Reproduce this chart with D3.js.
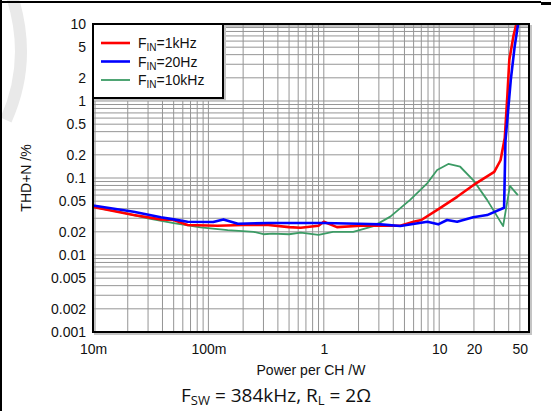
<!DOCTYPE html>
<html>
<head>
<meta charset="utf-8">
<script src="https://cdn.jsdelivr.net/npm/d3@7"></script>
<style>
  html, body { margin: 0; padding: 0; background: #fff; }
  svg { display: block; }
  text { font-family: "Liberation Sans", Arial, sans-serif; fill: #111; }
</style>
</head>
<body>
<svg id="chart" width="551" height="411"></svg>
<script>
// Output power per channel (W) and THD+N (%) for each input frequency
const powerRed   = [0.01, 0.0225, 0.0387, 0.05, 0.066, 0.12, 0.2, 0.33, 0.5, 0.63, 0.9, 1.0, 1.3, 2.07, 3.0, 4.6, 6.0, 7.0, 10, 14.3, 21, 30, 34, 37, 39, 40.5, 44, 47];
const thdRed     = [0.042, 0.033, 0.029, 0.0285, 0.0245, 0.024, 0.0245, 0.0245, 0.023, 0.0226, 0.024, 0.027, 0.023, 0.024, 0.024, 0.024, 0.027, 0.0285, 0.040, 0.057, 0.086, 0.12, 0.17, 0.33, 1.2, 3.4, 7, 10.5];

const powerBlue  = [0.01, 0.0225, 0.0387, 0.05, 0.066, 0.11, 0.135, 0.18, 0.33, 0.5, 1.0, 2.0, 3.1, 4.6, 7.9, 9.8, 11.7, 14.3, 19.7, 26, 36.5, 37.5, 41.7, 45, 48.5];
const thdBlue    = [0.044, 0.0365, 0.031, 0.029, 0.027, 0.0268, 0.029, 0.0255, 0.026, 0.026, 0.026, 0.0255, 0.025, 0.0238, 0.027, 0.025, 0.0285, 0.027, 0.031, 0.033, 0.041, 0.3, 1.87, 5, 10.5];

const powerGreen = [0.01, 0.0173, 0.0298, 0.05, 0.0855, 0.147, 0.246, 0.3, 0.36, 0.5, 0.63, 0.9, 1.2, 1.8, 2.7, 3.77, 5.6, 7.9, 9.6, 12, 15.2, 19.7, 26, 31.7, 35.8, 41, 48];
const thdGreen   = [0.042, 0.036, 0.030, 0.026, 0.0228, 0.021, 0.0200, 0.0186, 0.019, 0.0186, 0.0195, 0.0183, 0.020, 0.020, 0.0237, 0.0315, 0.052, 0.086, 0.127, 0.152, 0.14, 0.094, 0.052, 0.032, 0.0237, 0.079, 0.06];

const seriesNames  = ["1kHz", "20Hz", "10kHz"];
const seriesColors = ["#ff0000", "#0000ff", "#3c9b65"];

const xTickValues = [0.01, 0.1, 1, 10, 20, 50];
const xTickLabels = ["10m", "100m", "1", "10", "20", "50"];
const yTickValues = [10, 5, 2, 1, 0.5, 0.2, 0.1, 0.05, 0.02, 0.01, 0.005, 0.002, 0.001];
const yTickLabels = ["10", "5", "2", "1", "0.5", "0.2", "0.1", "0.05", "0.02", "0.01", "0.005", "0.002", "0.001"];

const svg = d3.select("#chart");
const plot = { left: 93, top: 24, right: 529, bottom: 332 };

const x = d3.scaleLog().domain([0.01, 60]).range([plot.left, plot.right]);
const y = d3.scaleLog().domain([0.001, 10]).range([plot.bottom, plot.top]);

// page frame and faint background mark
svg.append("path")
  .attr("d", "M12,-4 C26,40 24,80 6,120")
  .attr("fill", "none").attr("stroke", "#e9e9e9").attr("stroke-width", 12);
svg.append("line").attr("x1", 0).attr("x2", 541).attr("y1", 2).attr("y2", 2)
  .attr("stroke", "#000").attr("stroke-width", 2);
svg.append("line").attr("x1", 541).attr("x2", 551).attr("y1", 3.5).attr("y2", 3.5)
  .attr("stroke", "#000").attr("stroke-width", 3);
svg.append("line").attr("x1", 1).attr("x2", 1).attr("y1", 0).attr("y2", 411)
  .attr("stroke", "#000").attr("stroke-width", 2);

// plot frame shadow
svg.append("rect")
  .attr("x", plot.left + 2).attr("y", plot.top + 2)
  .attr("width", plot.right - plot.left).attr("height", plot.bottom - plot.top)
  .attr("fill", "none").attr("stroke", "#c4c4c4").attr("stroke-width", 2);

// grid lines: every 1..9 step of each decade
const xGrid = [];
for (let e = -2; e <= 1; e++) for (let k = 1; k <= 9; k++) {
  const v = k * Math.pow(10, e);
  if (v >= 0.01 && v <= 60) xGrid.push(v);
}
const yGrid = [];
for (let e = -3; e <= 1; e++) for (let k = 1; k <= 9; k++) {
  const v = k * Math.pow(10, e);
  if (v >= 0.001 && v <= 10) yGrid.push(v);
}
const grid = svg.append("g").attr("stroke", "#959595").attr("stroke-width", 1);
grid.selectAll("line.v").data(xGrid).join("line").attr("class", "v")
  .attr("x1", d => x(d)).attr("x2", d => x(d))
  .attr("y1", plot.top).attr("y2", plot.bottom);
grid.selectAll("line.h").data(yGrid).join("line").attr("class", "h")
  .attr("x1", plot.left).attr("x2", plot.right)
  .attr("y1", d => y(d)).attr("y2", d => y(d));

// axes (labels only)
const xAxis = d3.axisBottom(x).tickValues(xTickValues)
  .tickFormat((d, i) => xTickLabels[i]).tickSize(0).tickPadding(12);
svg.append("g").attr("transform", `translate(0,${plot.bottom})`).call(xAxis)
  .call(g => g.select(".domain").remove())
  .selectAll("text").style("font-family", "Liberation Sans, Arial, sans-serif")
  .style("font-size", "14px").attr("fill", "#111");

const yAxis = d3.axisLeft(y).tickValues(yTickValues)
  .tickFormat((d, i) => yTickLabels[i]).tickSize(0).tickPadding(7);
svg.append("g").attr("transform", `translate(${plot.left},0)`).call(yAxis)
  .call(g => g.select(".domain").remove())
  .selectAll("text").style("font-family", "Liberation Sans, Arial, sans-serif")
  .style("font-size", "14px").attr("fill", "#111");

// data curves
svg.append("clipPath").attr("id", "plotClip").append("rect")
  .attr("x", plot.left).attr("y", plot.top)
  .attr("width", plot.right - plot.left).attr("height", plot.bottom - plot.top);

const line = d3.line().x(d => x(d[0])).y(d => y(d[1]));
const series = [
  { name: seriesNames[2], color: seriesColors[2], width: 1.8, p: powerGreen, t: thdGreen },
  { name: seriesNames[0], color: seriesColors[0], width: 2.6, p: powerRed, t: thdRed },
  { name: seriesNames[1], color: seriesColors[1], width: 2.6, p: powerBlue, t: thdBlue }
];
const curves = svg.append("g").attr("clip-path", "url(#plotClip)");
series.forEach(s => {
  curves.append("path")
    .datum(d3.zip(s.p, s.t))
    .attr("fill", "none").attr("stroke", s.color).attr("stroke-width", s.width)
    .attr("stroke-linejoin", "round")
    .attr("d", line);
});

// plot frame
svg.append("rect")
  .attr("x", plot.left).attr("y", plot.top)
  .attr("width", plot.right - plot.left).attr("height", plot.bottom - plot.top)
  .attr("fill", "none").attr("stroke", "#000").attr("stroke-width", 2);

// legend
const lg = svg.append("g");
lg.append("rect").attr("x", plot.left + 2).attr("y", plot.top + 2)
  .attr("width", 130).attr("height", 74)
  .attr("fill", "none").attr("stroke", "#c4c4c4").attr("stroke-width", 2);
lg.append("rect").attr("x", plot.left).attr("y", plot.top)
  .attr("width", 130).attr("height", 74)
  .attr("fill", "#fff").attr("stroke", "#000").attr("stroke-width", 2);
const legendItems = [
  { name: seriesNames[0], color: seriesColors[0], width: 2.6 },
  { name: seriesNames[1], color: seriesColors[1], width: 2.6 },
  { name: seriesNames[2], color: seriesColors[2], width: 1.8 }
];
legendItems.forEach((it, i) => {
  const cy = 43 + i * 18.5;
  lg.append("line").attr("x1", 101).attr("x2", 130).attr("y1", cy).attr("y2", cy)
    .attr("stroke", it.color).attr("stroke-width", it.width);
  const t = lg.append("text").attr("x", 138).attr("y", cy + 5).style("font-size", "14px");
  t.append("tspan").text("F");
  t.append("tspan").attr("dy", 3).style("font-size", "10px").text("IN");
  t.append("tspan").attr("dy", -3).text("=" + it.name);
});

// axis titles
svg.append("text").attr("transform", "translate(31,178) rotate(-90)")
  .attr("text-anchor", "middle").style("font-size", "14px").text("THD+N /%");
svg.append("text").attr("x", 311).attr("y", 375)
  .attr("text-anchor", "middle").style("font-size", "14px").text("Power per CH /W");

// operating conditions
const cap = svg.append("text").attr("x", 276).attr("y", 402)
  .attr("text-anchor", "middle")
  .style("font-family", "'Open Sans', 'Noto Sans', sans-serif").style("font-size", "19px");
cap.append("tspan").text("F");
cap.append("tspan").attr("dy", 3).style("font-size", "13px").text("SW");
cap.append("tspan").attr("dy", -3).text(" = 384kHz, R");
cap.append("tspan").attr("dy", 3).style("font-size", "13px").text("L");
cap.append("tspan").attr("dy", -3).text(" = 2Ω");
</script>
</body>
</html>
